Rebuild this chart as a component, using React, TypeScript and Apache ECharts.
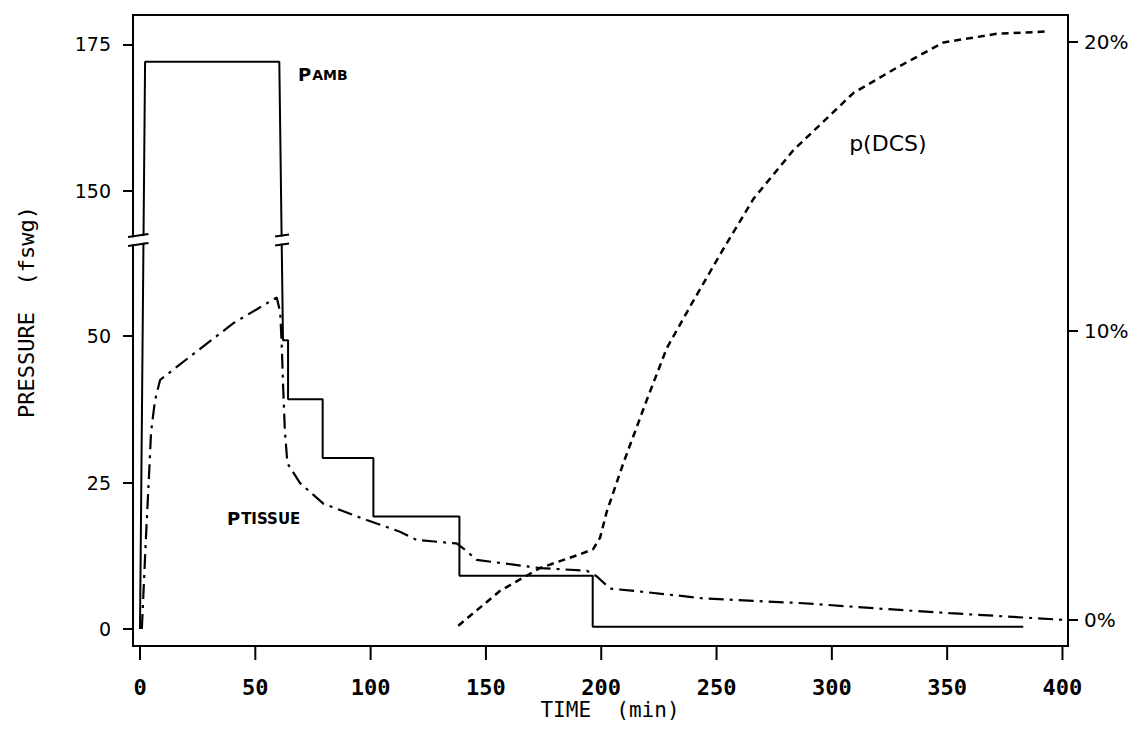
import React, { useEffect, useRef } from "react";
import * as echarts from "echarts";

// ---- tick labels ----
const X_TICKS = [0, 50, 100, 150, 200, 250, 300, 350, 400];
const P_TICKS = [0, 25, 50, 150, 175];
const PCT_TICKS = [0, 10, 20];

// ---- ambient pressure (fswg) ----
const PAMB_T = [0, 2.2, 60.4, 62, 64.2, 64.2, 79.2, 79.2, 101.2, 101.2, 138.5, 138.5, 196.3, 196.3, 383];
const PAMB_V = [0, 172, 172, 49.3, 49.3, 39.2, 39.2, 29.2, 29.2, 19.2, 19.2, 9.1, 9.1, 0.4, 0.4];

// ---- tissue pressure (fswg) ----
const PTIS_T = [0.8, 2.5, 4, 4.8, 6.5, 8.7, 21.7, 40.5, 59.3, 60.8, 61.5, 62, 62.8, 63.9, 69.4, 79.5, 98.3, 112.7, 120, 137.3, 141, 146, 173.5, 193.7, 198, 203.8, 216.8, 245, 287.6, 320, 351.3, 401];
const PTIS_V = [0, 15, 27, 33.7, 39, 42.5, 46.5, 52.2, 56.6, 54, 48, 42, 34, 28.3, 24.9, 21.4, 18.6, 16.6, 15.2, 14.6, 13.5, 11.8, 10.4, 9.95, 9, 6.9, 6.4, 5.2, 4.4, 3.5, 2.7, 1.55];

// ---- probability of DCS (%) ----
const PDCS_T = [138, 156, 173.5, 190, 196.5, 199.5, 202.4, 209.6, 219.7, 228.4, 238.5, 251.5, 266, 283.3, 309.3, 328, 348.4, 371.5, 393.2];
const PDCS_V = [-0.2, 1.0, 1.8, 2.25, 2.45, 2.85, 3.75, 5.43, 7.6, 9.4, 10.84, 12.64, 14.57, 16.25, 18.23, 19.1, 19.98, 20.28, 20.36];

// broken pressure scale
const BREAK_LO = 66.4;
const BREAK_HI = 141.6;
const GAP = BREAK_HI - BREAK_LO;
const toDisp = (v: number) => (v <= BREAK_LO ? v : v - GAP);
const fromDisp = (d: number) => (d <= BREAK_LO ? d : d + GAP);

export default function App() {
  const ref = useRef<HTMLDivElement>(null);
  useEffect(() => {
    const chart = echarts.init(ref.current!, null, { renderer: "svg" });
    const black = "#000";
    const tick = (len: number, vals: number[]) => ({
      show: true,
      inside: false,
      length: len,
      lineStyle: { color: black, width: 2 },
      customValues: vals,
    });
    const mkLine = () => ({ show: true, onZero: false, lineStyle: { color: black, width: 2 } });
    const option: any = {
      animation: false,
      backgroundColor: "#fff",
      grid: { left: 133, right: 69, top: 15, bottom: 92, show: true, borderColor: black, borderWidth: 2 },
      xAxis: {
        type: "value",
        position: "bottom",
        min: -3.04,
        max: 402.4,
        axisLine: mkLine(),
        splitLine: { show: false },
        axisTick: { show: false },
        axisLabel: {
          customValues: X_TICKS,
          inside: false,
          margin: 30,
          color: black,
          fontFamily: "DejaVu Sans Mono",
          fontWeight: "bold",
          fontSize: 22,
        },
      },
      yAxis: [
        {
          type: "value",
          position: "left",
          min: -2.9,
          max: 104.8,
          axisLine: mkLine(),
          splitLine: { show: false },
          axisTick: tick(10, P_TICKS.map(toDisp)),
          axisLabel: {
            customValues: P_TICKS.map(toDisp),
            inside: false,
            margin: 22,
            color: black,
            fontFamily: "DejaVu Sans",
            fontSize: 19,
            formatter: (v: number) => String(Math.round(fromDisp(v))),
          },
        },
        {
          type: "value",
          position: "right",
          min: -0.9,
          max: 20.93,
          axisLine: mkLine(),
          splitLine: { show: false },
          axisTick: tick(10, PCT_TICKS),
          axisLabel: {
            customValues: PCT_TICKS,
            inside: false,
            margin: 16,
            color: black,
            fontFamily: "DejaVu Sans",
            fontSize: 20,
            formatter: (v: number) => v + "%",
          },
        },
      ],
      series: [
        {
          name: "Pamb",
          type: "line",
          yAxisIndex: 0,
          symbol: "none",
          data: PAMB_T.map((t, i) => [t, toDisp(PAMB_V[i])]),
          lineStyle: { color: black, width: 2 },
          z: 3,
        },
        {
          name: "Ptissue",
          type: "line",
          yAxisIndex: 0,
          symbol: "none",
          data: PTIS_T.map((t, i) => [t, toDisp(PTIS_V[i])]),
          lineStyle: { color: black, width: 2.2, type: [15, 6, 3, 6] },
          z: 2,
        },
        {
          name: "p(DCS)",
          type: "line",
          yAxisIndex: 1,
          symbol: "none",
          data: PDCS_T.map((t, i) => [t, PDCS_V[i]]),
          lineStyle: { color: black, width: 2.5, type: [7, 5] },
          z: 2,
        },
      ],
    };
    chart.setOption(option);

    const px = (t: number, v: number) => chart.convertToPixel({ xAxisIndex: 0, yAxisIndex: 0 }, [t, toDisp(v)]) as number[];
    const pxPct = (t: number, p: number) => chart.convertToPixel({ xAxisIndex: 0, yAxisIndex: 1 }, [t, p]) as number[];

    const by = px(0, BREAK_LO)[1];
    const axisX = px(-3.04, 0)[0];
    const axisY = chart.convertToPixel({ xAxisIndex: 0, yAxisIndex: 0 }, [0, -2.9])[1] as number;
    const slope = -0.15;
    const breakMark = (x1: number, x2: number) => {
      const yAt = (x: number, off: number) => by + off + slope * (x - (x1 + x2) / 2);
      return [
        {
          type: "polygon",
          z: 100,
          shape: { points: [[x1, yAt(x1, -3.5)], [x2, yAt(x2, -3.5)], [x2, yAt(x2, 3.5)], [x1, yAt(x1, 3.5)]] },
          style: { fill: "#fff", stroke: null },
        },
        { type: "line", z: 101, shape: { x1, y1: yAt(x1, -4.5), x2, y2: yAt(x2, -4.5) }, style: { stroke: black, lineWidth: 2 } },
        { type: "line", z: 101, shape: { x1, y1: yAt(x1, 4.5), x2, y2: yAt(x2, 4.5) }, style: { stroke: black, lineWidth: 2 } },
      ];
    };
    const lineX1 = px(1.5, 0)[0];
    const lineX2 = px(61.6, 0)[0];

    // outward ticks on the time axis, placed through the axis scale
    const xTickMarks = X_TICKS.map((t) => {
      const x = px(t, 0)[0];
      return { type: "line", z: 100, shape: { x1: x, y1: axisY, x2: x, y2: axisY + 14 }, style: { stroke: black, lineWidth: 2 } };
    });

    const pambPos = px(68.5, 170.1);
    const ptisPos = px(37.7, 19.1);
    const pdcsPos = pxPct(307.5, 16.5);

    const smallCaps = (big: string, rest: string, x: number, y: number, restSize: number) => ({
      type: "text",
      z: 110,
      x,
      y,
      style: {
        text: `{a|${big}}{b|${rest}}`,
        verticalAlign: "middle",
        align: "left",
        rich: {
          a: { fontFamily: "DejaVu Sans", fontWeight: "bold", fontSize: 18, fill: black, verticalAlign: "bottom", lineHeight: 20 },
          b: { fontFamily: "DejaVu Sans", fontWeight: "bold", fontSize: restSize, fill: black, verticalAlign: "bottom", lineHeight: 20, padding: [0, 0, 1, 1] },
        },
      },
    });

    chart.setOption({
      graphic: [
        ...xTickMarks,
        ...breakMark(axisX - 5, lineX1 + 5),
        ...breakMark(lineX2 - 7, lineX2 + 7),
        smallCaps("P", "AMB", pambPos[0], pambPos[1], 14),
        smallCaps("P", "TISSUE", ptisPos[0], ptisPos[1], 15),
        {
          type: "text",
          z: 110,
          x: pdcsPos[0],
          y: pdcsPos[1],
          style: { text: "p(DCS)", fontFamily: "DejaVu Sans", fontSize: 22, fill: black, verticalAlign: "middle", align: "left" },
        },
        {
          type: "text",
          z: 110,
          x: 610,
          y: 710,
          style: { text: "TIME  (min)", fontFamily: "DejaVu Sans Mono", fontSize: 21, fill: black, verticalAlign: "middle", align: "center" },
        },
        {
          type: "text",
          z: 110,
          x: 26,
          y: 312,
          rotation: Math.PI / 2,
          style: { text: "PRESSURE  (fswg)", fontFamily: "DejaVu Sans Mono", fontSize: 22, fill: black, verticalAlign: "middle", align: "center" },
        },
      ],
    });

    return () => chart.dispose();
  }, []);
  return (
    <div
      ref={ref}
      style={{ position: "fixed", left: 0, top: 0, width: 1137, height: 738, background: "#fff" }}
    />
  );
}
